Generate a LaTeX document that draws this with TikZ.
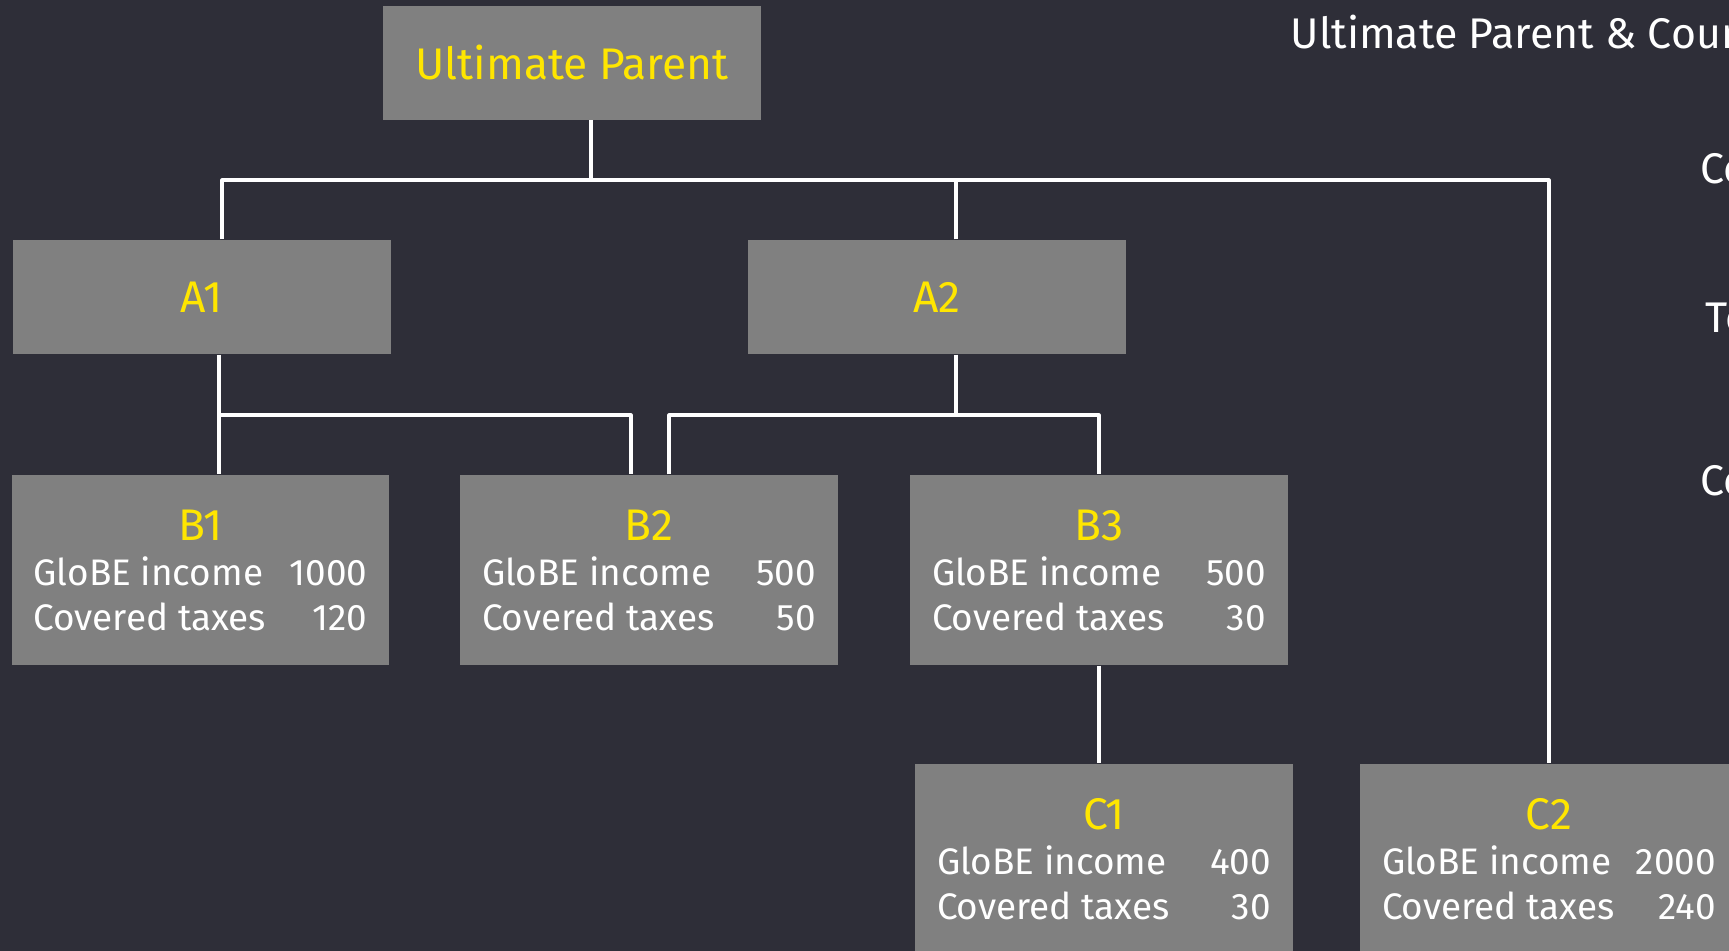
\documentclass[tikz,border=0pt]{standalone}
\usepackage{fontspec}
\setmainfont{Fira Sans}
\definecolor{eybg}{HTML}{2E2E38}
\definecolor{eygrey}{HTML}{808080}
\definecolor{eyyellow}{HTML}{FFE600}
\newcommand{\figline}[2]{\makebox[33.4mm]{#1\hfill #2}}
\newcommand{\entity}[3]{{\fontsize{12.6}{14}\selectfont\color{eyyellow}#1}\\\figline{GloBE income}{#2}\\\figline{Covered taxes}{#3}}
\begin{document}
\begin{tikzpicture}[x=0.1mm, y=-0.1mm, line join=round,
  ent/.style={fill=eygrey, minimum width=37.8mm, minimum height=19mm, inner sep=0pt, align=center, text=white, font=\fontsize{10.5}{12.8}\selectfont},
  head/.style={fill=eygrey, minimum width=37.8mm, minimum height=11.4mm, inner sep=0pt, text=eyyellow, font=\fontsize{12.6}{14}\selectfont},
  link/.style={draw=white, line width=0.9pt},
  note/.style={anchor=base west, inner sep=0pt, text=white, font=\fontsize{12.2}{14}\selectfont}]
\fill[eybg] (0,0) rectangle (1729,951);
\clip (0,0) rectangle (1729,951);
% entities
\node[head] (up) at (572,62.5) {Ultimate Parent};
\node[head] (a1) at (202,297) {A1};
\node[head] (a2) at (937,297) {A2};
\node[ent] (b1) at (200.5,570) {\entity{B1}{1000}{120}};
\node[ent] (b2) at (649,570) {\entity{B2}{500}{50}};
\node[ent] (b3) at (1099,570) {\entity{B3}{500}{30}};
\node[ent] (c1) at (1104,859) {\entity{C1}{400}{30}};
\node[ent] (c2) at (1549,859) {\entity{C2}{2000}{240}};
% ownership lines
\coordinate (topbus) at (0,180);
\coordinate (lowbus) at (0,415);
\draw[link] ([xshift=1.9mm]up.south) -- ([xshift=1.9mm]up.south |- topbus);
\draw[link] ([xshift=2mm]a1.north) |- (c2.north |- topbus) -- (c2.north);
\draw[link] ([xshift=1.9mm]a2.north) -- ([xshift=1.9mm]a2.north |- topbus);
\draw[link] ([xshift=1.7mm]a1.south) -- ([xshift=1.7mm]a1.south |- b1.north);
\draw[link] ([xshift=1.7mm]a1.south |- lowbus) -| ([xshift=-1.8mm]b2.north);
\draw[link] ([xshift=1.9mm]a2.south) -- ([xshift=1.9mm]a2.south |- lowbus);
\draw[link] ([xshift=2mm]b2.north) |- ([xshift=1.9mm]a2.south |- lowbus) -| (b3.north);
\draw[link] (b3.south) -- (b3.south |- c1.north);
% legend, cut at the edge
\node[note] (legend) at (1290,48) {Ultimate Parent \& Coun};
\node[note] (row1) at (1700,183) {Co};
\node[note] (row2) at (1705,332) {Te};
\node[note] (row3) at (1700,495) {Co};
\end{tikzpicture}
\end{document}
